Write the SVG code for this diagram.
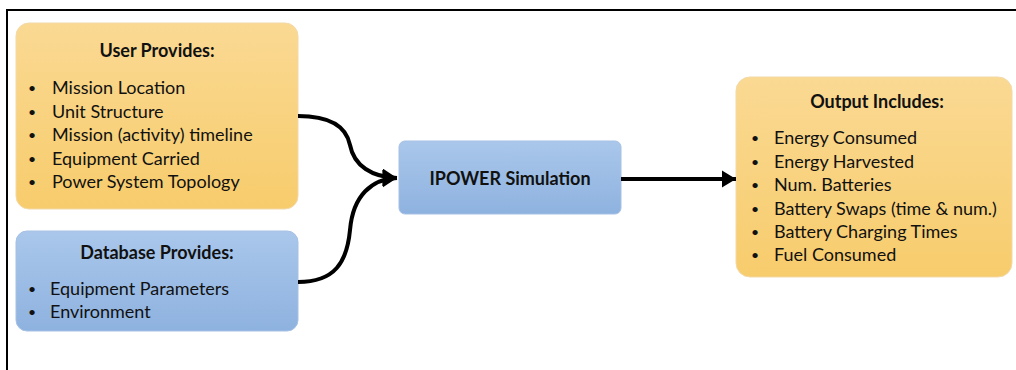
<svg xmlns="http://www.w3.org/2000/svg" width="1016" height="370" viewBox="0 0 1016 370">
<defs>
<linearGradient id="gOr" x1="0" y1="0" x2="0" y2="1"><stop offset="0" stop-color="#FAD993"/><stop offset="1" stop-color="#F7CC6C"/></linearGradient>
<linearGradient id="gBl" x1="0" y1="0" x2="0" y2="1"><stop offset="0" stop-color="#AAC7EB"/><stop offset="1" stop-color="#8EB2DF"/></linearGradient>
<marker id="ah" markerWidth="4" markerHeight="5" refX="3.6" refY="2.2" orient="auto" markerUnits="strokeWidth"><path d="M0,0 L3.6,2.2 L0,4.4 Z" fill="#000"/></marker>
<style>
text{font-family:Lato,"Open Sans","Liberation Sans",sans-serif;fill:#111;font-size:18px}
.t{font-weight:bold;text-anchor:middle}
.d{font-size:14px}
.c{fill:none;stroke:#000;stroke-width:4}
.o{fill:url(#gOr);stroke:#F3D9A8;stroke-width:1}
.b{fill:url(#gBl);stroke:#A6C1E4;stroke-width:1}
</style>
</defs>
<rect width="1016" height="370" fill="#fff"/>
<path d="M7,370 V10 H1016" fill="none" stroke="#000" stroke-width="2"/>
<g id="user">
<rect class="o" x="16" y="23" width="282" height="186" rx="13"/>
<text class="t" x="157" y="57">User Provides:</text>
<text class="d" x="28" y="93">•</text><text x="52" y="94">Mission Location</text>
<text class="d" x="28" y="116.5">•</text><text x="52" y="117.5">Unit Structure</text>
<text class="d" x="28" y="140">•</text><text x="52" y="141">Mission (activity) timeline</text>
<text class="d" x="28" y="163.5">•</text><text x="52" y="164.5">Equipment Carried</text>
<text class="d" x="28" y="187">•</text><text x="52" y="188">Power System Topology</text>
</g>
<g id="database">
<rect class="b" x="16" y="231" width="282" height="100" rx="11"/>
<text class="t" x="157" y="259">Database Provides:</text>
<text class="d" x="28" y="294">•</text><text x="50" y="295">Equipment Parameters</text>
<text class="d" x="28" y="317">•</text><text x="50" y="318">Environment</text>
</g>
<g id="sim">
<rect class="b" x="399" y="141" width="222" height="73" rx="6"/>
<text class="t" x="510" y="185">IPOWER Simulation</text>
</g>
<g id="output">
<rect class="o" x="736" y="77" width="276" height="200" rx="14"/>
<text class="t" x="877" y="108">Output Includes:</text>
<text class="d" x="751" y="143">•</text><text x="774" y="144">Energy Consumed</text>
<text class="d" x="751" y="166.5">•</text><text x="774" y="167.5">Energy Harvested</text>
<text class="d" x="751" y="190">•</text><text x="774" y="191">Num. Batteries</text>
<text class="d" x="751" y="213.5">•</text><text x="774" y="214.5">Battery Swaps (time &amp; num.)</text>
<text class="d" x="751" y="237">•</text><text x="774" y="238">Battery Charging Times</text>
<text class="d" x="751" y="260">•</text><text x="774" y="261">Fuel Consumed</text>
</g>
<g id="connectors">
<path class="c" marker-end="url(#ah)" d="M298,116 C335,116 347,130 350,145 C354,166 372,177 397,178"/>
<path class="c" marker-end="url(#ah)" d="M298,282 C335,282 347,262 350,230 C353,195 372,179 397,178"/>
<path class="c" marker-end="url(#ah)" d="M621,179 H736"/>
</g>
</svg>
